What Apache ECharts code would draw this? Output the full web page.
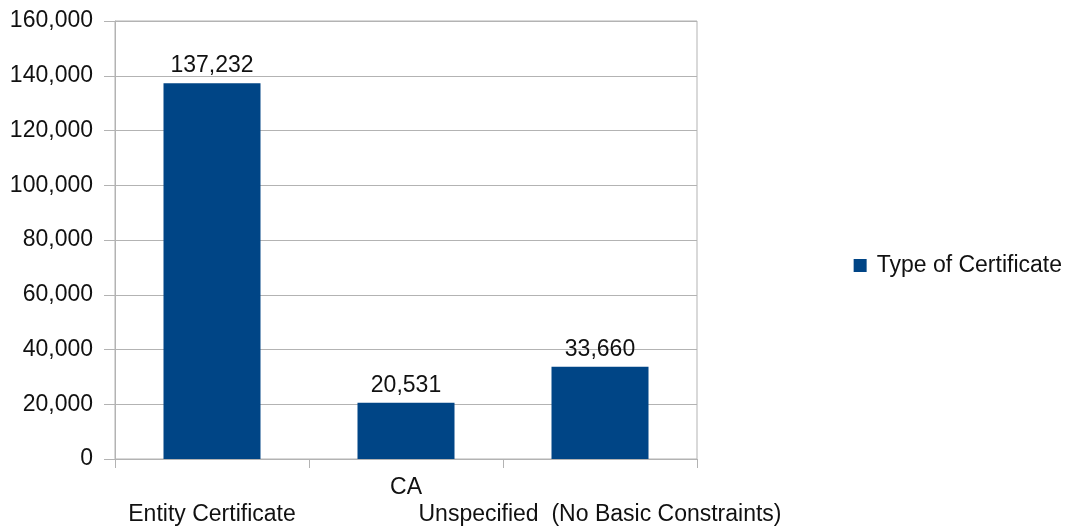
<!DOCTYPE html>
<html>
<head>
<meta charset="utf-8">
<script src="https://cdn.jsdelivr.net/npm/echarts@6/dist/echarts.min.js"></script>
<style>
  html, body { margin: 0; padding: 0; background: #fff; }
  #chart { width: 1073px; height: 531px; }
</style>
</head>
<body>
<div id="chart"></div>
<script>
const categories = ['Entity Certificate', 'CA', 'Unspecified  (No Basic Constraints)'];
const certCounts = [137232, 20531, 33660];
const seriesName = 'Type of Certificate';

const fmt = (v) => Number(v).toLocaleString('en-US');
const font = 'Liberation Sans, Arial, sans-serif';

const chart = echarts.init(document.getElementById('chart'));
chart.setOption({
  animation: false,
  textStyle: { fontFamily: font },
  grid: {
    left: 115, right: 376, top: 21, bottom: 72,
    show: true, borderColor: '#b3b3b3', borderWidth: 1,
    containLabel: false
  },
  legend: {
    right: 6, top: 'middle',
    orient: 'vertical',
    itemWidth: 13, itemHeight: 13, icon: 'rect',
    itemGap: 8,
    textStyle: { fontSize: 23, color: '#111', fontFamily: font, padding: [0, 0, 0, 5] },
    data: [seriesName]
  },
  xAxis: {
    type: 'category',
    data: categories,
    axisLine: { lineStyle: { color: '#b3b3b3' } },
    axisTick: { show: true, length: 9, lineStyle: { color: '#b3b3b3' } },
    axisLabel: {
      interval: 0,
      margin: 15,
      color: '#111',
      fontSize: 23,
      lineHeight: 27,
      formatter: (v, i) => (i % 2 === 0 ? '\n' + v : v)
    }
  },
  yAxis: {
    type: 'value',
    min: 0, max: 160000, interval: 20000,
    axisLine: { show: true, lineStyle: { color: '#b3b3b3' } },
    axisTick: { show: true, length: 11, lineStyle: { color: '#b3b3b3' } },
    splitLine: { lineStyle: { color: '#b3b3b3' } },
    axisLabel: { margin: 22, color: '#111', fontSize: 23, formatter: fmt }
  },
  series: [{
    name: seriesName,
    type: 'bar',
    data: certCounts,
    barCategoryGap: '50%',
    itemStyle: { color: '#004586' },
    label: {
      show: true, position: 'top', distance: 6,
      color: '#111', fontSize: 23,
      formatter: (p) => fmt(p.value)
    }
  }]
});
</script>
</body>
</html>
